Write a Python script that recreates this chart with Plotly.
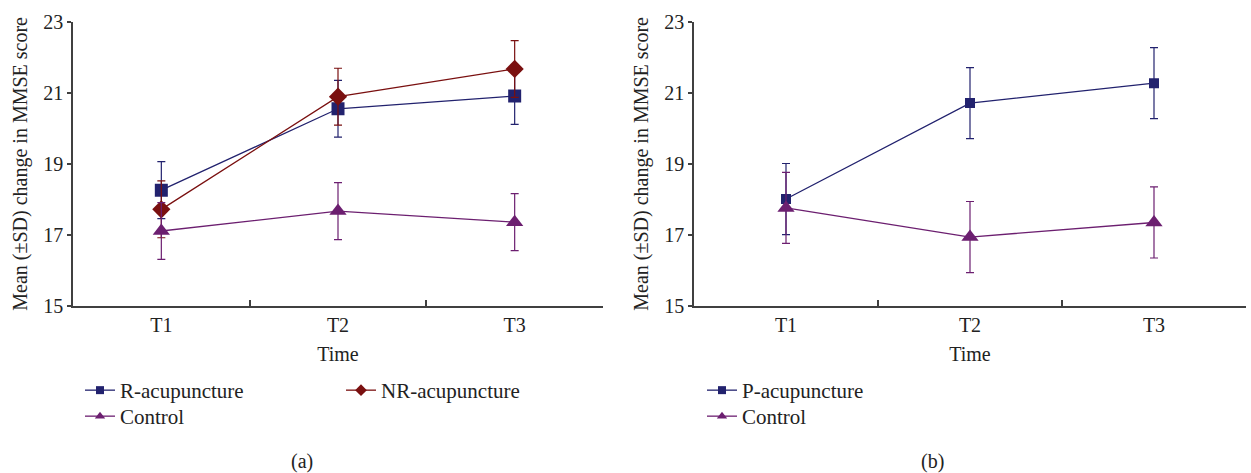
import plotly.graph_objects as go

# ---- data ----
times = ["T1", "T2", "T3"]

# panel (a)
r_acu_mean = [18.26, 20.55, 20.91]
r_acu_sd = [0.80, 0.80, 0.80]
nr_acu_mean = [17.72, 20.89, 21.67]
nr_acu_sd = [0.80, 0.80, 0.80]
ctrl_a_mean = [17.11, 17.67, 17.36]
ctrl_a_sd = [0.80, 0.80, 0.80]

# panel (b)
p_acu_mean = [18.01, 20.71, 21.27]
p_acu_sd = [1.00, 1.00, 1.00]
ctrl_b_mean = [17.76, 16.94, 17.35]
ctrl_b_sd = [1.00, 1.00, 1.00]

yticks = [15, 17, 19, 21, 23]

NAVY = "#22226e"
DARKRED = "#7a1010"
PURPLE = "#6c1f70"
FONT = "Liberation Serif"
FS = 20
LFS = 21

fig = go.Figure()


def add(name, means, sds, color, symbol, size, lsize, xa, ya, legend):
    fig.add_trace(go.Scatter(
        x=times, y=means, name=name, mode="lines+markers",
        line=dict(color=color, width=1.3),
        marker=dict(color=color, symbol=symbol, size=size),
        error_y=dict(type="data", array=sds, visible=True, color=color,
                     thickness=1.2, width=4),
        xaxis=xa, yaxis=ya, showlegend=False,
    ))
    # legend key (small marker, as in the reference legend)
    fig.add_trace(go.Scatter(
        x=[None], y=[None], name=name, mode="lines+markers",
        line=dict(color=color, width=1.3),
        marker=dict(color=color, symbol=symbol, size=lsize),
        xaxis=xa, yaxis=ya, legend=legend, showlegend=True,
    ))


add("R-acupuncture", r_acu_mean, r_acu_sd, NAVY, "square", 13, 8, "x", "y", "legend")
add("NR-acupuncture", nr_acu_mean, nr_acu_sd, DARKRED, "diamond", 14, 9, "x", "y", "legend2")
add("Control", ctrl_a_mean, ctrl_a_sd, PURPLE, "triangle-up", 15, 9, "x", "y", "legend3")
add("P-acupuncture", p_acu_mean, p_acu_sd, NAVY, "square", 10, 8, "x2", "y2", "legend4")
add("Control", ctrl_b_mean, ctrl_b_sd, PURPLE, "triangle-up", 15, 9, "x2", "y2", "legend5")

axis_common = dict(showline=True, linecolor="#404040", linewidth=1.5,
                   showgrid=False, zeroline=False, automargin=False,
                   tickfont=dict(family=FONT, size=FS, color="#222"))

xcommon = dict(axis_common, type="category", range=[-0.5, 2.5],
               tickson="boundaries", ticks="inside", ticklen=6,
               tickcolor="#404040", tickwidth=1.5,
               title=dict(text="Time", font=dict(family=FONT, size=FS, color="#222"),
                          standoff=12))
ycommon = dict(axis_common, range=[15, 23], tickvals=yticks,
               ticks="outside", ticklen=4, tickcolor="#404040", tickwidth=1.5,
               title=dict(text="Mean (±SD) change in MMSE score",
                          font=dict(family=FONT, size=FS, color="#222"),
                          standoff=10))

ydom = [1 - 306 / 473, 1 - 21.7 / 473]

leg_common = dict(font=dict(family=FONT, size=LFS, color="#222"),
                  bgcolor="rgba(0,0,0,0)", orientation="v",
                  xanchor="left", yanchor="top", tracegroupgap=0,
                  itemwidth=30)

row1 = 1 - 370 / 473
row2 = 1 - 396 / 473

fig.update_layout(
    width=1251, height=473,
    margin=dict(l=0, r=0, t=0, b=0),
    paper_bgcolor="white", plot_bgcolor="white",
    font=dict(family=FONT, size=FS, color="#222"),
    xaxis=dict(xcommon, domain=[73 / 1251, 603 / 1251], anchor="y"),
    yaxis=dict(ycommon, domain=ydom, anchor="x"),
    xaxis2=dict(xcommon, domain=[694 / 1251, 1246 / 1251], anchor="y2"),
    yaxis2=dict(ycommon, domain=ydom, anchor="x2"),
    legend=dict(leg_common, x=80 / 1251, y=row1),
    legend2=dict(leg_common, x=341 / 1251, y=row1),
    legend3=dict(leg_common, x=80 / 1251, y=row2),
    legend4=dict(leg_common, x=702 / 1251, y=row1),
    legend5=dict(leg_common, x=702 / 1251, y=row2),
    annotations=[
        dict(text="(a)", x=302 / 1251, y=1 - 461 / 473, xref="paper", yref="paper",
             xanchor="center", yanchor="middle",
             showarrow=False, font=dict(family=FONT, size=FS, color="#222")),
        dict(text="(b)", x=932 / 1251, y=1 - 461 / 473, xref="paper", yref="paper",
             xanchor="center", yanchor="middle",
             showarrow=False, font=dict(family=FONT, size=FS, color="#222")),
    ],
)

fig.write_html("out.html",
               config={"displayModeBar": False},
               post_script="document.body.style.margin='0';document.body.style.padding='0';")
